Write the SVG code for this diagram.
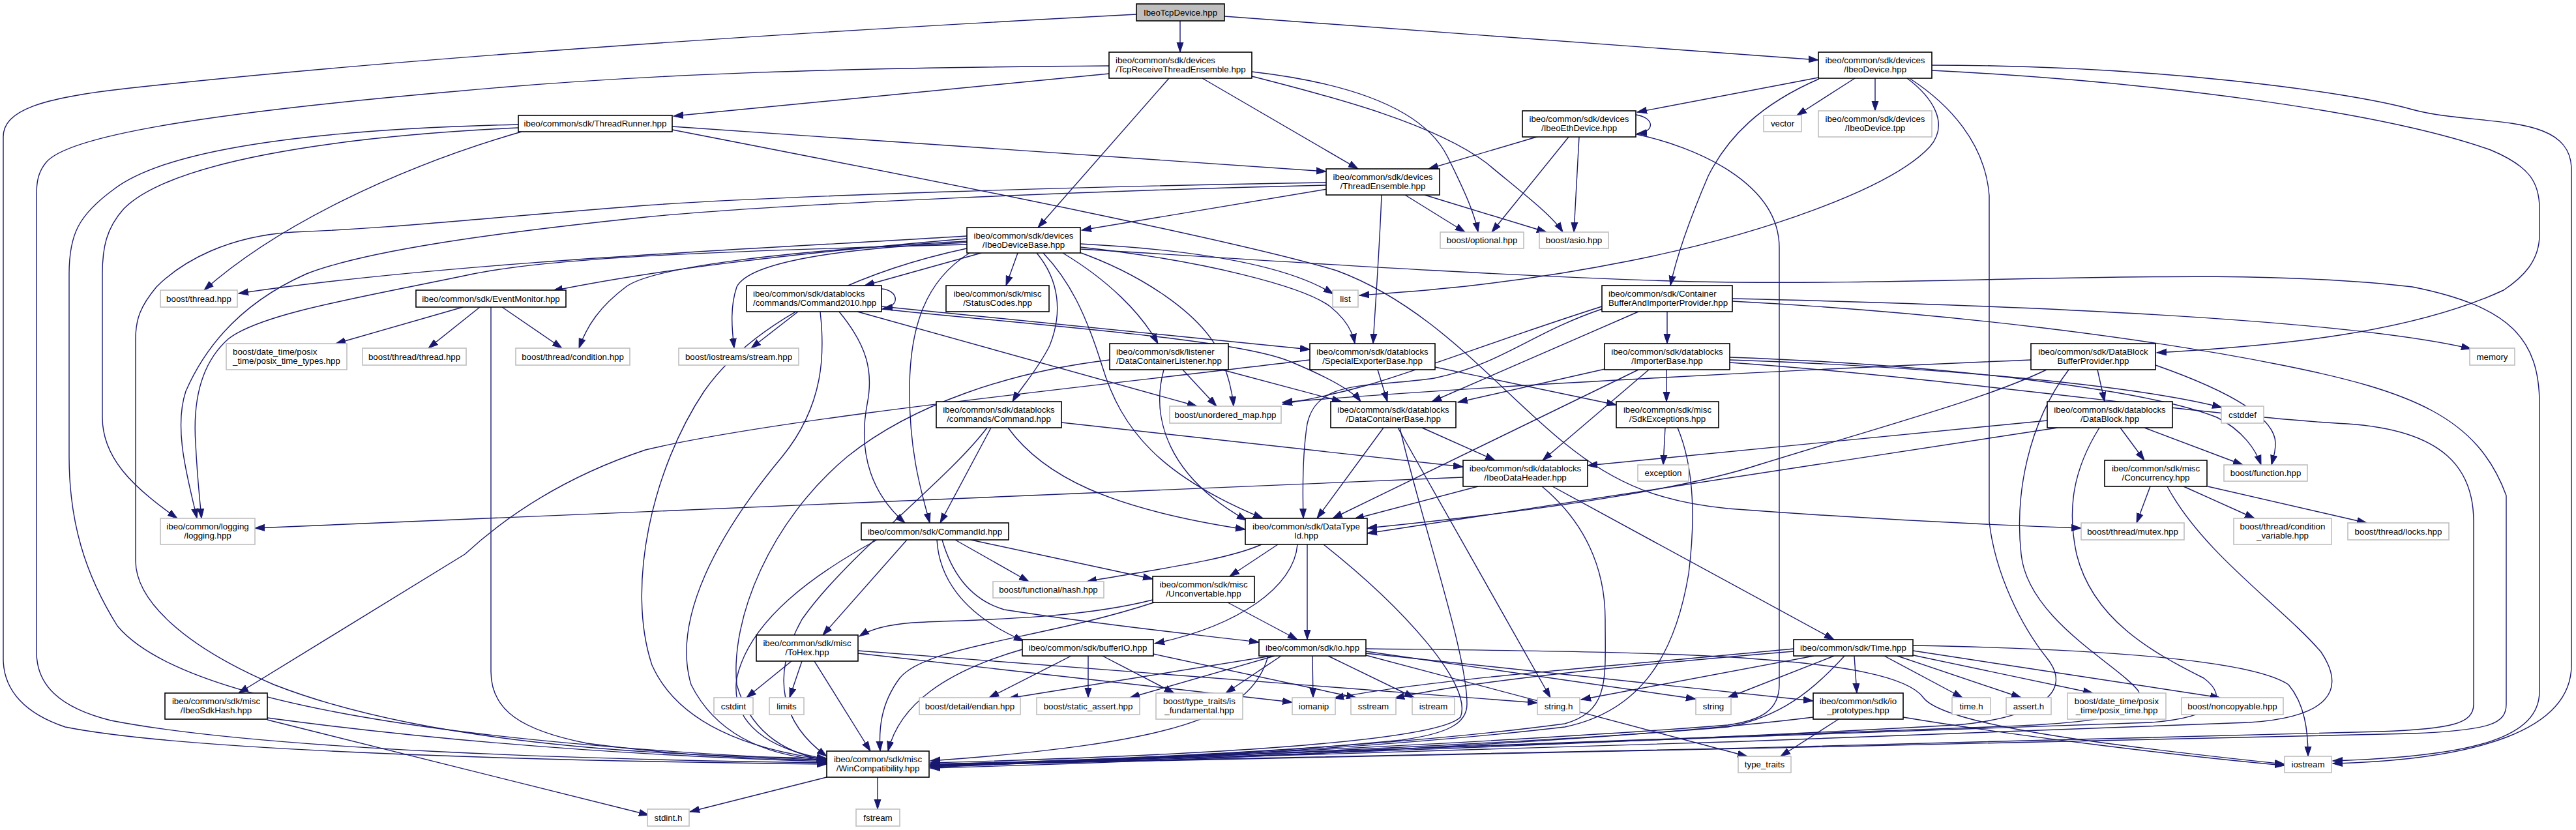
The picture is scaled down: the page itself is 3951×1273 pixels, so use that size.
<svg xmlns="http://www.w3.org/2000/svg" width="3951" height="1273" viewBox="0 0 3951 1273">
<style>
.e{fill:none;stroke:#191970;stroke-width:1.4;marker-end:url(#a)}
.b rect{fill:#fff;stroke:#000;stroke-width:1.6}
.g rect{fill:#fff;stroke:#bfbfbf;stroke-width:1.6}
.r rect{fill:#bfbfbf;stroke:#000;stroke-width:1.6}
text{font-family:"Liberation Sans",Arial,sans-serif;font-size:13.3px;fill:#000}
.c text{text-anchor:middle}
</style>
<defs>
<marker id="a" markerWidth="16" markerHeight="12" refX="15" refY="6" orient="auto" markerUnits="userSpaceOnUse"><path d="M0,1 L15,6 L0,11 z" fill="#191970" stroke="#191970" stroke-width="1"/></marker>
</defs>
<rect width="3951" height="1273" fill="#fff"/>
<g id="edges">
<path class="e" d="M1810,32 L1810,80"/>
<path class="e" d="M1878,25 L2789,92"/>
<path class="e" d="M1743,22 C1400,40 700,80 200,135 C60,150 5,170 5,210 L5,1010 C5,1060 40,1095 100,1115 C300,1155 900,1168 1268,1172"/>
<path class="e" d="M1701,101 C1300,104 1000,112 700,140 C300,175 100,210 70,250 C58,265 56,280 56,300 L56,1000 C56,1050 90,1085 170,1105 C400,1150 900,1165 1268,1170"/>
<path class="e" d="M1701,113 L1033,178"/>
<path class="e" d="M1793,120 L1592,349"/>
<path class="e" d="M1844,120 L2083,259"/>
<path class="e" d="M1920,110 C2050,125 2180,160 2220,240 C2250,300 2262,330 2267,356"/>
<path class="e" d="M1920,117 C2050,150 2200,190 2280,250 C2340,300 2380,330 2397,356"/>
<path class="e" d="M1031,194 L2034,263"/>
<path class="e" d="M1031,199 C1500,290 1900,370 2050,415 C2200,470 2300,600 2400,680 C2480,745 2550,770 2650,780 C2850,795 3050,805 3192,810"/>
<path class="e" d="M800,202 C600,260 420,350 313,445"/>
<path class="e" d="M795,196 C500,210 260,250 190,320 C163,350 157,380 157,420 L157,640 C157,700 200,745 272,795"/>
<path class="e" d="M795,191 C500,198 260,225 175,290 C120,330 106,360 106,420 L106,700 C106,800 130,880 180,960 C280,1080 700,1140 1268,1166"/>
<path class="e" d="M2036,290 L1659,353"/>
<path class="e" d="M2034,284 C1700,292 1200,312 990,333 C750,358 560,385 470,420 C380,460 320,520 285,600 C265,660 290,740 302,795"/>
<path class="e" d="M2034,280 C1700,285 1200,300 990,315 C700,338 600,350 450,356 C350,362 280,400 240,440 C215,470 208,490 208,520 L208,860 C208,920 280,990 420,1050 C650,1140 1000,1160 1268,1163"/>
<path class="e" d="M2155,299 L2247,356"/>
<path class="e" d="M2185,299 L2372,356"/>
<path class="e" d="M2119,299 C2116,380 2110,460 2106,527"/>
<path class="e" d="M2789,119 L2511,172"/>
<path class="e" d="M2845,120 L2756,177"/>
<path class="e" d="M2876,120 L2876,170"/>
<path class="e" d="M2790,121 C2700,160 2650,210 2620,270 C2590,340 2570,400 2562,438"/>
<path class="e" d="M2925,120 C2965,150 2990,190 2960,225 C2900,290 2700,360 2500,400 C2300,440 2150,448 2085,453"/>
<path class="e" d="M2930,121 C2990,160 3045,220 3051,300 L3051,800 C3060,880 3100,960 3140,1010 C3180,1060 3130,1100 3000,1112 C2500,1140 1800,1165 1427,1172"/>
<path class="e" d="M2963,108 C3300,125 3650,170 3820,230 C3880,255 3895,280 3895,320 L3895,360 C3895,400 3870,425 3840,445 C3700,510 3500,530 3308,541"/>
<path class="e" d="M2963,100 C3300,100 3600,140 3700,168 C3800,195 3944,170 3944,260 L3944,1020 C3944,1120 3800,1165 3578,1171"/>
<path class="e" d="M2509,176 C2537,180 2540,202 2511,205"/>
<path class="e" d="M2357,210 L2191,259"/>
<path class="e" d="M2406,210 L2288,356"/>
<path class="e" d="M2422,210 L2414,356"/>
<path class="e" d="M2510,206 C2600,225 2729,280 2729,380 L2729,1050 C2729,1090 2700,1105 2650,1112 C2300,1140 1700,1165 1427,1177"/>
<path class="e" d="M1483,362 C1200,380 700,400 366,450"/>
<path class="e" d="M1483,366 C1200,390 1000,415 848,446"/>
<path class="e" d="M1483,370 C1200,385 1000,410 960,440 C920,470 900,500 888,534"/>
<path class="e" d="M1483,375 C1100,385 850,395 726,420 C560,455 400,480 350,520 C305,560 296,620 300,680 C303,740 307,770 309,795"/>
<path class="e" d="M1483,372 C1300,380 1150,400 1130,440 C1120,470 1122,500 1126,534"/>
<path class="e" d="M1505,388 L1326,438"/>
<path class="e" d="M1561,388 L1543,438"/>
<path class="e" d="M1487,388 C1420,430 1395,500 1395,600 C1395,700 1415,760 1426,802"/>
<path class="e" d="M1590,388 C1625,430 1630,480 1610,530 C1590,570 1565,595 1553,616"/>
<path class="e" d="M1600,388 C1640,430 1665,480 1690,560 C1720,660 1780,730 1937,795"/>
<path class="e" d="M1630,388 C1700,430 1750,480 1776,527"/>
<path class="e" d="M1650,385 C1750,420 1840,480 1870,540 C1885,580 1890,600 1892,623"/>
<path class="e" d="M1657,374 C1850,384 1980,410 2045,451"/>
<path class="e" d="M1657,379 C1850,400 2000,440 2040,470 C2065,490 2075,510 2078,527"/>
<path class="e" d="M1657,382 C1800,390 2300,425 2600,432 C3000,440 3400,405 3700,440 C3850,470 3895,520 3895,620 L3895,1060 C3895,1130 3800,1160 3578,1167"/>
<path class="e" d="M1483,381 C1300,420 1150,500 1080,600 C1000,720 960,900 1000,1020 C1040,1110 1150,1150 1268,1165"/>
<path class="e" d="M710,471 L515,527"/>
<path class="e" d="M736,471 L657,534"/>
<path class="e" d="M770,471 L862,534"/>
<path class="e" d="M753,471 L753,1030 C753,1090 800,1120 900,1140 C1050,1160 1150,1163 1268,1166"/>
<path class="e" d="M1352,443 C1378,445 1382,470 1354,473"/>
<path class="e" d="M1224,478 L1152,534"/>
<path class="e" d="M1315,478 L1836,623"/>
<path class="e" d="M1287,478 C1330,530 1340,570 1330,620 C1315,700 1340,760 1388,802"/>
<path class="e" d="M1352,470 L2009,536"/>
<path class="e" d="M1352,474 C1600,500 1900,520 1980,555 C2040,580 2075,600 2087,616"/>
<path class="e" d="M1258,478 C1265,540 1265,620 1200,700 C1100,820 1030,950 1060,1050 C1100,1130 1180,1160 1268,1166"/>
<path class="e" d="M2113,567 L2128,616"/>
<path class="e" d="M2201,563 L2479,621"/>
<path class="e" d="M2009,552 C1700,590 1200,640 990,690 C900,720 800,770 713,850 L366,1063"/>
<path class="e" d="M1814,567 L1866,623"/>
<path class="e" d="M1874,567 L2058,616"/>
<path class="e" d="M1785,567 C1765,640 1790,730 1912,798"/>
<path class="e" d="M1702,552 C1550,570 1400,620 1300,700 C1180,800 1120,950 1130,1050 C1150,1120 1200,1155 1268,1166"/>
<path class="e" d="M2557,478 L2557,527"/>
<path class="e" d="M2513,478 L2196,616"/>
<path class="e" d="M2457,470 C2300,520 2200,560 2100,590 C2030,610 1990,615 1967,620"/>
<path class="e" d="M2457,474 C2350,510 2300,560 2200,580 C2100,595 2020,580 2005,650 C1997,700 1998,760 1999,795"/>
<path class="e" d="M2657,458 C3100,468 3600,490 3790,535"/>
<path class="e" d="M2657,462 C3000,480 3300,520 3500,560 C3700,600 3800,640 3844,760 L3844,1080 C3844,1110 3820,1120 3700,1125 C3000,1140 2000,1165 1427,1174"/>
<path class="e" d="M2466,565 L2236,617"/>
<path class="e" d="M2556,567 L2556,616"/>
<path class="e" d="M2529,567 L2366,706"/>
<path class="e" d="M2513,567 L2044,795"/>
<path class="e" d="M2653,548 C3000,560 3300,600 3400,640 C3440,660 3460,690 3468,713"/>
<path class="e" d="M2653,552 C2900,560 3250,585 3408,625"/>
<path class="e" d="M2653,556 C3000,580 3400,640 3600,650 C3750,660 3794,720 3794,800 L3794,1080 C3794,1110 3760,1118 3650,1122 C3000,1140 2000,1165 1427,1173"/>
<path class="e" d="M3217,567 L3228,616"/>
<path class="e" d="M3306,560 C3420,600 3490,640 3490,680 C3490,695 3486,705 3484,713"/>
<path class="e" d="M3139,567 C3050,610 2900,650 2700,712 C2600,745 2400,780 2097,810"/>
<path class="e" d="M3115,552 C2800,565 2300,590 1967,617"/>
<path class="e" d="M3173,567 C3110,650 3090,760 3100,850 C3110,950 3250,1020 3280,1060 C3300,1100 3200,1110 3050,1115 C2400,1140 1800,1165 1427,1175"/>
<path class="e" d="M3252,656 L3289,706"/>
<path class="e" d="M3289,656 L3440,713"/>
<path class="e" d="M3140,645 L2435,714"/>
<path class="e" d="M3156,656 L2097,818"/>
<path class="e" d="M3220,656 C3180,720 3170,780 3185,850 C3210,950 3300,1000 3380,1040 C3420,1070 3400,1100 3300,1108 C2600,1135 1900,1163 1427,1174"/>
<path class="e" d="M3298,746 L3277,802"/>
<path class="e" d="M3349,746 L3458,795"/>
<path class="e" d="M3386,746 L3630,802"/>
<path class="e" d="M3324,746 C3380,850 3500,930 3560,1000 C3600,1060 3570,1100 3450,1108 C2800,1135 1900,1163 1427,1175"/>
<path class="e" d="M2267,746 L2077,796"/>
<path class="e" d="M2244,732 L391,810"/>
<path class="e" d="M2381,746 L2813,981"/>
<path class="e" d="M2365,746 C2430,800 2462,870 2462,950 C2462,1040 2470,1090 2400,1110 C2100,1150 1700,1165 1427,1173"/>
<path class="e" d="M2554,656 L2551,713"/>
<path class="e" d="M2573,656 C2600,720 2600,800 2590,880 C2570,1000 2520,1090 2400,1115 C2100,1150 1700,1168 1427,1175"/>
<path class="e" d="M1520,656 L1442,802"/>
<path class="e" d="M1628,648 L2244,716"/>
<path class="e" d="M1546,656 C1600,730 1700,780 1910,812"/>
<path class="e" d="M1514,656 C1450,740 1300,850 1230,950 C1180,1040 1200,1110 1268,1160"/>
<path class="e" d="M1465,828 L1578,892"/>
<path class="e" d="M1489,828 L1768,888"/>
<path class="e" d="M1391,828 L1262,974"/>
<path class="e" d="M1437,828 C1440,880 1470,940 1570,983"/>
<path class="e" d="M1445,828 C1460,880 1490,920 1540,935 C1700,960 1850,975 1931,985"/>
<path class="e" d="M1345,828 C1250,880 1150,950 1130,1040 C1120,1110 1180,1150 1268,1164"/>
<path class="e" d="M1935,835 C1880,860 1760,875 1667,892"/>
<path class="e" d="M1960,835 L1886,884"/>
<path class="e" d="M1990,835 C1985,900 1900,960 1771,987"/>
<path class="e" d="M2005,835 L2005,981"/>
<path class="e" d="M2030,835 C2150,930 2260,1050 2240,1100 C2200,1140 1800,1160 1427,1170"/>
<path class="e" d="M2122,656 L2020,795"/>
<path class="e" d="M2181,656 L2293,706"/>
<path class="e" d="M2144,656 L2378,1070"/>
<path class="e" d="M2147,656 C2180,800 2250,1000 2250,1080 C2250,1110 2220,1125 2150,1135 C1900,1160 1600,1168 1427,1172"/>
<path class="e" d="M1768,920 C1650,950 1500,950 1400,955 C1360,958 1335,965 1318,976"/>
<path class="e" d="M1883,924 L1990,981"/>
<path class="e" d="M1770,924 C1600,980 1420,990 1380,1040 C1350,1080 1348,1120 1350,1152"/>
<path class="e" d="M1214,1014 L1145,1070"/>
<path class="e" d="M1230,1014 L1211,1070"/>
<path class="e" d="M1249,1014 L1335,1152"/>
<path class="e" d="M1316,998 L2358,1078"/>
<path class="e" d="M1316,1002 L1982,1077"/>
<path class="e" d="M1643,1006 L1517,1070"/>
<path class="e" d="M1669,1006 L1669,1070"/>
<path class="e" d="M1691,1006 L1801,1063"/>
<path class="e" d="M1568,996 C1450,1030 1380,1080 1362,1152"/>
<path class="e" d="M1769,1003 L2080,1070"/>
<path class="e" d="M2013,1006 L2014,1070"/>
<path class="e" d="M2037,1006 L2169,1070"/>
<path class="e" d="M2095,995 C2500,1000 2900,1000 2950,1070 C2980,1110 3200,1140 3504,1172"/>
<path class="e" d="M2095,999 L2601,1072"/>
<path class="e" d="M2095,1002 L2781,1075"/>
<path class="e" d="M2095,1005 L2680,1160"/>
<path class="e" d="M1950,1006 L1547,1071"/>
<path class="e" d="M1955,1006 L1733,1070"/>
<path class="e" d="M1965,1006 L1880,1063"/>
<path class="e" d="M1945,1006 C1920,1100 1800,1140 1427,1167"/>
<path class="e" d="M2751,995 C2500,1020 2200,1040 2046,1071"/>
<path class="e" d="M2751,999 C2500,1020 2250,1045 2139,1071"/>
<path class="e" d="M2782,1006 L2425,1073"/>
<path class="e" d="M2813,1006 L2650,1070"/>
<path class="e" d="M2844,1006 L2848,1063"/>
<path class="e" d="M2829,1006 C2780,1060 2730,1100 2650,1115 C2300,1145 1700,1165 1427,1176"/>
<path class="e" d="M2890,1006 L3010,1070"/>
<path class="e" d="M2910,1006 L3100,1070"/>
<path class="e" d="M2930,1004 L3210,1063"/>
<path class="e" d="M2934,998 L3405,1070"/>
<path class="e" d="M2934,990 C3200,995 3450,1010 3510,1050 C3535,1080 3540,1120 3540,1160"/>
<path class="e" d="M2820,1103 L2731,1160"/>
<path class="e" d="M2781,1100 C2500,1135 1900,1165 1427,1178"/>
<path class="e" d="M2919,1100 C3100,1130 3350,1160 3504,1174"/>
<path class="e" d="M410,1101 C700,1140 1000,1160 1268,1168"/>
<path class="e" d="M410,1104 L995,1250"/>
<path class="e" d="M1268,1192 L1058,1245"/>
<path class="e" d="M1346,1192 L1346,1241"/>
</g>
<g id="n_root" class="r c"><rect x="1743" y="6" width="135" height="26"/><text x="1810.5" y="23.5">IbeoTcpDevice.hpp</text></g>
<g id="n_tcprecv" class="b"><rect x="1701" y="80" width="219" height="40"/><text x="1711" y="97">ibeo/common/sdk/devices</text><text x="1711" y="111">/TcpReceiveThreadEnsemble.hpp</text></g>
<g id="n_ibeodevice" class="b c"><rect x="2789" y="80" width="174" height="40"/><text x="2876" y="97">ibeo/common/sdk/devices</text><text x="2876" y="111">/IbeoDevice.hpp</text></g>
<g id="n_threadrunner" class="b c"><rect x="795" y="177" width="236" height="25"/><text x="913" y="194">ibeo/common/sdk/ThreadRunner.hpp</text></g>
<g id="n_ethdevice" class="b c"><rect x="2335" y="170" width="174" height="40"/><text x="2422" y="187">ibeo/common/sdk/devices</text><text x="2422" y="201">/IbeoEthDevice.hpp</text></g>
<g id="n_vector" class="g c"><rect x="2705" y="177" width="58" height="25"/><text x="2734" y="194">vector</text></g>
<g id="n_tpp" class="g c"><rect x="2789" y="170" width="174" height="40"/><text x="2876" y="187">ibeo/common/sdk/devices</text><text x="2876" y="201">/IbeoDevice.tpp</text></g>
<g id="n_threadensemble" class="b c"><rect x="2034" y="259" width="174" height="40"/><text x="2121" y="276">ibeo/common/sdk/devices</text><text x="2121" y="290">/ThreadEnsemble.hpp</text></g>
<g id="n_optional" class="g c"><rect x="2209" y="356" width="128" height="25"/><text x="2273" y="373">boost/optional.hpp</text></g>
<g id="n_asio" class="g c"><rect x="2361" y="356" width="106" height="25"/><text x="2414" y="373">boost/asio.hpp</text></g>
<g id="n_devicebase" class="b c"><rect x="1483" y="349" width="174" height="39"/><text x="1570" y="366">ibeo/common/sdk/devices</text><text x="1570" y="380">/IbeoDeviceBase.hpp</text></g>
<g id="n_bthread" class="g c"><rect x="246" y="445" width="118" height="26"/><text x="305" y="462.5">boost/thread.hpp</text></g>
<g id="n_eventmonitor" class="b c"><rect x="638" y="445" width="230" height="26"/><text x="753" y="462.5">ibeo/common/sdk/EventMonitor.hpp</text></g>
<g id="n_command2010" class="b"><rect x="1145" y="438" width="207" height="40"/><text x="1155" y="455">ibeo/common/sdk/datablocks</text><text x="1155" y="469">/commands/Command2010.hpp</text></g>
<g id="n_statuscodes" class="b c"><rect x="1451" y="438" width="158" height="40"/><text x="1530" y="455">ibeo/common/sdk/misc</text><text x="1530" y="469">/StatusCodes.hpp</text></g>
<g id="n_list" class="g c"><rect x="2044" y="445" width="39" height="26"/><text x="2063.5" y="462.5">list</text></g>
<g id="n_containerbuffer" class="b"><rect x="2457" y="438" width="200" height="40"/><text x="2467" y="455">ibeo/common/sdk/Container</text><text x="2467" y="469">BufferAndImporterProvider.hpp</text></g>
<g id="n_memory" class="g c"><rect x="3788" y="534" width="69" height="26"/><text x="3822.5" y="551.5">memory</text></g>
<g id="n_posixtypes" class="g"><rect x="347" y="527" width="185" height="40"/><text x="357" y="544">boost/date_time/posix</text><text x="357" y="558">_time/posix_time_types.hpp</text></g>
<g id="n_threadthread" class="g c"><rect x="556" y="534" width="159" height="26"/><text x="635.5" y="551.5">boost/thread/thread.hpp</text></g>
<g id="n_condition" class="g c"><rect x="791" y="534" width="175" height="26"/><text x="878.5" y="551.5">boost/thread/condition.hpp</text></g>
<g id="n_stream" class="g c"><rect x="1041" y="534" width="184" height="26"/><text x="1133" y="551.5">boost/iostreams/stream.hpp</text></g>
<g id="n_listener" class="b"><rect x="1702" y="527" width="182" height="40"/><text x="1712" y="544">ibeo/common/sdk/listener</text><text x="1712" y="558">/DataContainerListener.hpp</text></g>
<g id="n_specialexporter" class="b c"><rect x="2009" y="527" width="192" height="40"/><text x="2105" y="544">ibeo/common/sdk/datablocks</text><text x="2105" y="558">/SpecialExporterBase.hpp</text></g>
<g id="n_importerbase" class="b c"><rect x="2461" y="527" width="192" height="40"/><text x="2557" y="544">ibeo/common/sdk/datablocks</text><text x="2557" y="558">/ImporterBase.hpp</text></g>
<g id="n_dbbprovider" class="b c"><rect x="3115" y="527" width="191" height="40"/><text x="3210.5" y="544">ibeo/common/sdk/DataBlock</text><text x="3210.5" y="558">BufferProvider.hpp</text></g>
<g id="n_command" class="b c"><rect x="1436" y="616" width="192" height="40"/><text x="1532" y="633">ibeo/common/sdk/datablocks</text><text x="1532" y="647">/commands/Command.hpp</text></g>
<g id="n_unorderedmap" class="g c"><rect x="1794" y="623" width="171" height="26"/><text x="1879.5" y="640.5">boost/unordered_map.hpp</text></g>
<g id="n_datacontainerbase" class="b c"><rect x="2041" y="616" width="192" height="40"/><text x="2137" y="633">ibeo/common/sdk/datablocks</text><text x="2137" y="647">/DataContainerBase.hpp</text></g>
<g id="n_sdkexceptions" class="b c"><rect x="2479" y="616" width="157" height="40"/><text x="2557.5" y="633">ibeo/common/sdk/misc</text><text x="2557.5" y="647">/SdkExceptions.hpp</text></g>
<g id="n_cstddef" class="g c"><rect x="3407" y="623" width="65" height="26"/><text x="3439.5" y="640.5">cstddef</text></g>
<g id="n_datablock" class="b c"><rect x="3140" y="616" width="192" height="40"/><text x="3236" y="633">ibeo/common/sdk/datablocks</text><text x="3236" y="647">/DataBlock.hpp</text></g>
<g id="n_dataheader" class="b c"><rect x="2244" y="706" width="191" height="40"/><text x="2339.5" y="723">ibeo/common/sdk/datablocks</text><text x="2339.5" y="737">/IbeoDataHeader.hpp</text></g>
<g id="n_exception" class="g c"><rect x="2512" y="713" width="78" height="25"/><text x="2551" y="730">exception</text></g>
<g id="n_function" class="g c"><rect x="3411" y="713" width="128" height="25"/><text x="3475" y="730">boost/function.hpp</text></g>
<g id="n_concurrency" class="b c"><rect x="3228" y="706" width="157" height="40"/><text x="3306.5" y="723">ibeo/common/sdk/misc</text><text x="3306.5" y="737">/Concurrency.hpp</text></g>
<g id="n_logging" class="g c"><rect x="246" y="795" width="145" height="40"/><text x="318.5" y="812">ibeo/common/logging</text><text x="318.5" y="826">/logging.hpp</text></g>
<g id="n_commandid" class="b c"><rect x="1321" y="802" width="226" height="26"/><text x="1434" y="819.5">ibeo/common/sdk/CommandId.hpp</text></g>
<g id="n_datatypeid" class="b c"><rect x="1910" y="795" width="187" height="40"/><text x="2003.5" y="812">ibeo/common/sdk/DataType</text><text x="2003.5" y="826">Id.hpp</text></g>
<g id="n_mutex" class="g c"><rect x="3192" y="802" width="158" height="26"/><text x="3271" y="819.5">boost/thread/mutex.hpp</text></g>
<g id="n_condvar" class="g c"><rect x="3426" y="795" width="150" height="40"/><text x="3501" y="812">boost/thread/condition</text><text x="3501" y="826">_variable.hpp</text></g>
<g id="n_locks" class="g c"><rect x="3601" y="802" width="155" height="26"/><text x="3678.5" y="819.5">boost/thread/locks.hpp</text></g>
<g id="n_hash" class="g c"><rect x="1523" y="892" width="170" height="25"/><text x="1608" y="909">boost/functional/hash.hpp</text></g>
<g id="n_unconvertable" class="b c"><rect x="1768" y="884" width="156" height="40"/><text x="1846" y="901">ibeo/common/sdk/misc</text><text x="1846" y="915">/Unconvertable.hpp</text></g>
<g id="n_tohex" class="b c"><rect x="1160" y="974" width="156" height="40"/><text x="1238" y="991">ibeo/common/sdk/misc</text><text x="1238" y="1005">/ToHex.hpp</text></g>
<g id="n_bufferio" class="b c"><rect x="1568" y="981" width="201" height="25"/><text x="1668.5" y="998">ibeo/common/sdk/bufferIO.hpp</text></g>
<g id="n_io" class="b c"><rect x="1931" y="981" width="164" height="25"/><text x="2013" y="998">ibeo/common/sdk/io.hpp</text></g>
<g id="n_time" class="b c"><rect x="2751" y="981" width="183" height="25"/><text x="2842.5" y="998">ibeo/common/sdk/Time.hpp</text></g>
<g id="n_sdkhash" class="b c"><rect x="253" y="1063" width="157" height="40"/><text x="331.5" y="1080">ibeo/common/sdk/misc</text><text x="331.5" y="1094">/IbeoSdkHash.hpp</text></g>
<g id="n_cstdint" class="g c"><rect x="1095" y="1070" width="60" height="26"/><text x="1125" y="1087.5">cstdint</text></g>
<g id="n_limits" class="g c"><rect x="1180" y="1070" width="53" height="26"/><text x="1206.5" y="1087.5">limits</text></g>
<g id="n_endian" class="g c"><rect x="1410" y="1070" width="155" height="26"/><text x="1487.5" y="1087.5">boost/detail/endian.hpp</text></g>
<g id="n_staticassert" class="g c"><rect x="1590" y="1070" width="158" height="26"/><text x="1669" y="1087.5">boost/static_assert.hpp</text></g>
<g id="n_isfundamental" class="g c"><rect x="1773" y="1063" width="133" height="40"/><text x="1839.5" y="1080">boost/type_traits/is</text><text x="1839.5" y="1094">_fundamental.hpp</text></g>
<g id="n_iomanip" class="g c"><rect x="1982" y="1070" width="66" height="26"/><text x="2015" y="1087.5">iomanip</text></g>
<g id="n_sstream" class="g c"><rect x="2072" y="1070" width="69" height="26"/><text x="2106.5" y="1087.5">sstream</text></g>
<g id="n_istream" class="g c"><rect x="2166" y="1070" width="65" height="26"/><text x="2198.5" y="1087.5">istream</text></g>
<g id="n_stringh" class="g c"><rect x="2358" y="1070" width="65" height="26"/><text x="2390.5" y="1087.5">string.h</text></g>
<g id="n_string" class="g c"><rect x="2601" y="1070" width="54" height="26"/><text x="2628" y="1087.5">string</text></g>
<g id="n_ioproto" class="b c"><rect x="2781" y="1063" width="138" height="40"/><text x="2850" y="1080">ibeo/common/sdk/io</text><text x="2850" y="1094">_prototypes.hpp</text></g>
<g id="n_timeh" class="g c"><rect x="2994" y="1070" width="59" height="26"/><text x="3023.5" y="1087.5">time.h</text></g>
<g id="n_asserth" class="g c"><rect x="3077" y="1070" width="69" height="26"/><text x="3111.5" y="1087.5">assert.h</text></g>
<g id="n_posixtime" class="g c"><rect x="3171" y="1063" width="151" height="40"/><text x="3246.5" y="1080">boost/date_time/posix</text><text x="3246.5" y="1094">_time/posix_time.hpp</text></g>
<g id="n_noncopyable" class="g c"><rect x="3346" y="1070" width="156" height="26"/><text x="3424" y="1087.5">boost/noncopyable.hpp</text></g>
<g id="n_wincompat" class="b c"><rect x="1268" y="1152" width="157" height="40"/><text x="1346.5" y="1169">ibeo/common/sdk/misc</text><text x="1346.5" y="1183">/WinCompatibility.hpp</text></g>
<g id="n_typetraits" class="g c"><rect x="2666" y="1160" width="81" height="25"/><text x="2706.5" y="1177">type_traits</text></g>
<g id="n_iostream" class="g c"><rect x="3504" y="1160" width="72" height="25"/><text x="3540" y="1177">iostream</text></g>
<g id="n_stdint" class="g c"><rect x="993" y="1241" width="64" height="26"/><text x="1025" y="1258.5">stdint.h</text></g>
<g id="n_fstream" class="g c"><rect x="1313" y="1241" width="67" height="26"/><text x="1346.5" y="1258.5">fstream</text></g>
</svg>
